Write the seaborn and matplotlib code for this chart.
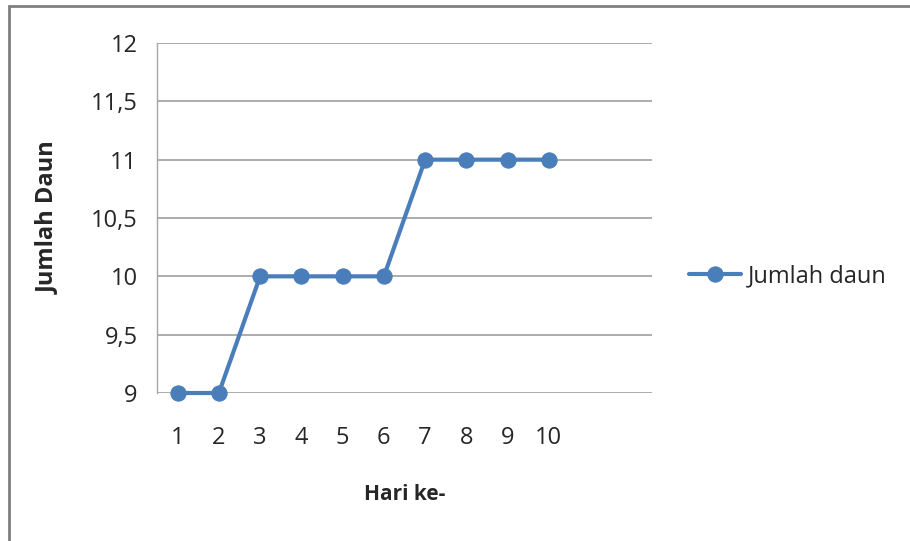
import numpy as np
import pandas as pd
import seaborn as sns
import matplotlib.pyplot as plt
from matplotlib.patches import Rectangle
from matplotlib.ticker import FuncFormatter

# data
hari = ["1", "2", "3", "4", "5", "6", "7", "8", "9", "10"]
jumlah_daun = [9, 9, 10, 10, 10, 10, 11, 11, 11, 11]
y_ticks = [9, 9.5, 10, 10.5, 11, 11.5, 12]

df = pd.DataFrame({"pos": np.arange(len(hari)), "daun": jumlah_daun})

sns.set_style("white")
plt.rcParams['font.family'] = ['Open Sans', 'DejaVu Sans']

fig = plt.figure(figsize=(9.1, 5.41), dpi=100)
ax = fig.add_axes([157 / 910, 1 - 393 / 541, (652 - 157) / 910, (393 - 43) / 541])

blue = "#4A7EBB"
sns.lineplot(data=df, x="pos", y="daun", ax=ax, color=blue, linewidth=3,
             marker="o", markersize=11, markeredgecolor=blue,
             label="Jumlah daun", zorder=3)
for ln in ax.lines:
    ln.set_clip_on(False)

ax.set_xlim(-0.5, 11.5)
ax.set_ylim(9, 12)
ax.set_xticks(df["pos"])
ax.set_xticklabels(hari)
ax.set_yticks(y_ticks)
ax.yaxis.set_major_formatter(FuncFormatter(lambda v, p: f"{v:g}".replace(".", ",")))

ax.grid(axis="y", color="#a6a6a6", linewidth=1.3)
for s in ["top", "right", "bottom"]:
    ax.spines[s].set_visible(False)
ax.spines["left"].set_color("#a6a6a6")
ax.spines["left"].set_linewidth(1.0)
ax.tick_params(axis="x", length=0, pad=24, labelsize=17, colors="#262626")
ax.tick_params(axis="y", length=6, width=1.0, color="#a6a6a6", pad=8,
               labelsize=17, labelcolor="#262626")
ax.set_axisbelow(True)

ax.set_xlabel("Hari ke-", fontsize=15, fontweight="bold", labelpad=24)
ax.set_ylabel("Jumlah Daun", fontsize=17, fontweight="bold", labelpad=22)

leg = ax.legend(loc="center left", bbox_to_anchor=(1.075, (393 - 276) / 350),
                frameon=False, fontsize=17, handlelength=2.2, handletextpad=0.3,
                borderaxespad=0, borderpad=0)
for t in leg.get_texts():
    t.set_color("#262626")

# outer chart border (only left/top visible in the crop)
fig.patches.append(Rectangle((9 / 910, -0.5), 2.0, 1.5 - 6 / 541,
                             transform=fig.transFigure, fill=False,
                             edgecolor="#7f7f7f", linewidth=2))

fig.savefig("out.png", dpi=100)
